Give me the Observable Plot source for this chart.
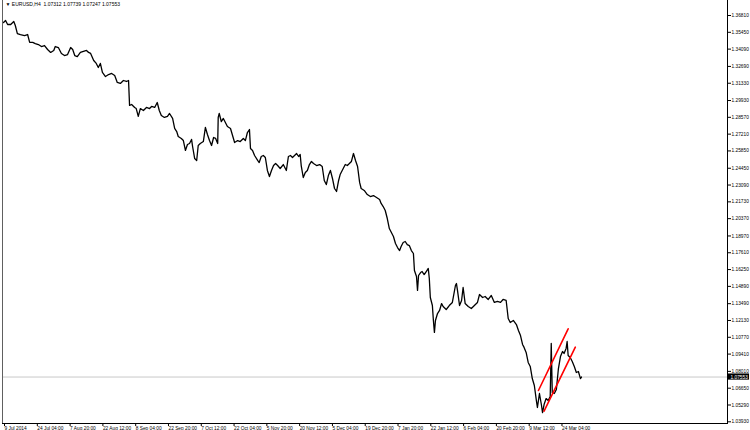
<!DOCTYPE html>
<html>
<head>
<meta charset="utf-8">
<script src="https://cdn.jsdelivr.net/npm/d3@7"></script>
<script src="https://cdn.jsdelivr.net/npm/@observablehq/plot@0.6"></script>
<style>
  html, body { margin: 0; padding: 0; background: #ffffff; }
  #chart { width: 750px; height: 430px; }
</style>
</head>
<body>
<div id="chart"></div>
<script>
// ---- Data ----
const symbolName = "EURUSD,H4";
const lastBarOHLC = [1.07312, 1.07739, 1.07247, 1.07553];
const lastClose = 1.07553;

// bar index (H4 bars since 9 Jul 2014) and close price, sampled along the path
const bars = [0,4,8,14,20,23,27,33,41,47,51,57,62,68,74,80,86,92,98,101,107,113,119,125,131,135,139,144,150,156,162,166,170,176,181,185,189,193,199,205,211,217,222,228,234,240,244,246,250,256,259,263,267,273,279,285,289,295,300,304,308,314,320,324,330,334,338,341,347,351,355,359,363,367,369,373,377,380,384,390,394,398,402,406,410,414,418,419,421,425,429,433,437,443,447,451,457,462,468,472,476,480,482,486,490,496,499,503,507,511,515,519,523,527,531,535,540,546,552,556,560,564,568,572,576,579,581,585,589,593,597,601,605,611,617,622,626,630,634,638,642,646,650,654,657,663,667,671,675,679,683,687,691,695,698,704,710,716,722,728,734,737,741,745,749,753,757,761,765,769,773,776,780,784,788,792,796,800,802,806,808,810,814,817,821,825,829,831,833,837,839,841,843,847,851,855,858,864,870,876,882,884,886,890,894,897,901,907,913,919,925,929,935,940,946,952,958,964,970,975,981,985,989,995,1001,1005,1009,1013,1016,1020,1024,1028,1032,1036,1040,1042,1046,1050,1052,1055,1059,1063,1067,1069,1071,1075,1079,1083,1087,1091,1094,1098,1100,1102,1106,1110,1114,1118,1122,1126,1128];
const closes = [1.3624,1.3641,1.3608,1.3608,1.3633,1.3600,1.3535,1.3527,1.3519,1.3527,1.3463,1.3463,1.3454,1.3446,1.3430,1.3438,1.3406,1.3382,1.3398,1.3430,1.3422,1.3374,1.3357,1.3365,1.3422,1.3406,1.3357,1.3349,1.3382,1.3390,1.3398,1.3382,1.3374,1.3317,1.3293,1.3260,1.3293,1.3220,1.3187,1.3203,1.3212,1.3195,1.3139,1.3131,1.3155,1.3147,1.3155,1.2953,1.2961,1.2937,1.2928,1.2864,1.2928,1.2912,1.2937,1.2928,1.2945,1.2937,1.2977,1.2912,1.2872,1.2856,1.2864,1.2888,1.2848,1.2767,1.2742,1.2702,1.2686,1.2669,1.2589,1.2637,1.2645,1.2678,1.2621,1.2524,1.2508,1.2629,1.2645,1.2661,1.2775,1.2718,1.2669,1.2629,1.2694,1.2686,1.2645,1.2856,1.2888,1.2823,1.2848,1.2815,1.2783,1.2767,1.2710,1.2653,1.2669,1.2661,1.2686,1.2669,1.2734,1.2758,1.2605,1.2589,1.2548,1.2508,1.2491,1.2540,1.2548,1.2532,1.2427,1.2378,1.2427,1.2467,1.2483,1.2467,1.2443,1.2475,1.2427,1.2540,1.2548,1.2532,1.2548,1.2564,1.2540,1.2556,1.2467,1.2370,1.2410,1.2427,1.2475,1.2500,1.2483,1.2467,1.2475,1.2459,1.2346,1.2313,1.2386,1.2427,1.2362,1.2281,1.2257,1.2346,1.2394,1.2443,1.2475,1.2467,1.2483,1.2500,1.2564,1.2508,1.2459,1.2330,1.2281,1.2265,1.2232,1.2216,1.2224,1.2208,1.2192,1.2160,1.2135,1.2103,1.2038,1.1957,1.1925,1.1893,1.1836,1.1803,1.1779,1.1811,1.1844,1.1852,1.1827,1.1819,1.1779,1.1755,1.1617,1.1569,1.1456,1.1577,1.1601,1.1609,1.1585,1.1609,1.1634,1.1553,1.1399,1.1334,1.1213,1.1116,1.1213,1.1269,1.1294,1.1350,1.1326,1.1302,1.1334,1.1359,1.1496,1.1512,1.1456,1.1334,1.1375,1.1480,1.1350,1.1326,1.1310,1.1334,1.1359,1.1423,1.1399,1.1407,1.1383,1.1415,1.1359,1.1367,1.1359,1.1383,1.1375,1.1229,1.1197,1.1213,1.1180,1.1132,1.1091,1.1019,1.0995,1.0954,1.0873,1.0841,1.0743,1.0687,1.0565,1.0509,1.0622,1.0525,1.0468,1.0533,1.0581,1.0565,1.0598,1.1027,1.0629,1.0622,1.0654,1.0824,1.0921,1.0962,1.0946,1.0987,1.1043,1.0930,1.0913,1.0881,1.0841,1.0792,1.0800,1.0743,1.07553];

// red trend channel (two parallel lines): [bar, price] endpoints
const channelUpperBars = [1044, 1102];
const channelUpperPrices = [1.06463, 1.11456];
const channelLowerBars = [1055, 1116];
const channelLowerPrices = [1.04788, 1.09967];

// axis ticks
const xTickBars = [0,64,128,192,256,320,384,448,512,576,640,704,768,832,896,960,1024,1088];
const xTickLabels = ["9 Jul 2014","24 Jul 04:00","7 Aug 20:00","22 Aug 12:00","8 Sep 04:00","22 Sep 20:00","7 Oct 12:00","22 Oct 04:00","5 Nov 20:00","20 Nov 12:00","5 Dec 04:00","19 Dec 20:00","7 Jan 20:00","22 Jan 12:00","6 Feb 04:00","20 Feb 20:00","9 Mar 12:00","24 Mar 04:00"];
const yTickValues = [1.36810,1.35450,1.34090,1.32690,1.31330,1.29930,1.28570,1.27210,1.25850,1.24450,1.23090,1.21730,1.20370,1.18970,1.17610,1.16250,1.14890,1.13490,1.12130,1.10770,1.09410,1.08010,1.06650,1.05290,1.03930];

// ---- Build tables ----
const series = bars.map((b, i) => ({bar: b, close: closes[i]}));
const channel = [
  ...channelUpperBars.map((b, i) => ({line: "upper", bar: b, price: channelUpperPrices[i]})),
  ...channelLowerBars.map((b, i) => ({line: "lower", bar: b, price: channelLowerPrices[i]}))
];
const xLabelMap = new Map(xTickBars.map((b, i) => [b, xTickLabels[i]]));

const xDomain = [-2, 1413];
const yDomain = [1.03793, 1.38024];
const boxHalf = 0.0025;
const title = "\u25BC " + symbolName + "  " + lastBarOHLC.map(v => v.toFixed(5)).join(" ");

const chart = Plot.plot({
  width: 750,
  height: 430,
  marginLeft: 2,
  marginRight: 23,
  marginTop: 0,
  marginBottom: 7,
  style: {fontFamily: "'Liberation Sans', Arial, sans-serif", fontSize: "4.8px", background: "#ffffff", color: "#000000", overflow: "visible"},
  x: {domain: xDomain, axis: null, label: null},
  y: {domain: yDomain, axis: null, label: null},
  marks: [
    Plot.ruleY([lastClose], {stroke: "#c8c8c8", strokeWidth: 1}),
    Plot.line(series, {x: "bar", y: "close", stroke: "#000000", strokeWidth: 1.3, curve: "linear"}),
    Plot.line(channel, {x: "bar", y: "price", z: "line", stroke: "#ff0000", strokeWidth: 1.6}),
    Plot.axisY(yTickValues, {anchor: "right", label: null, tickSize: 3, tickPadding: 1, stroke: "#000000", fill: "#000000", tickFormat: d => d.toFixed(5)}),
    Plot.axisX(xTickBars, {anchor: "bottom", label: null, tickSize: 3, tickPadding: 0, textAnchor: "start", dx: 1, stroke: "#000000", fill: "#000000", tickFormat: d => xLabelMap.get(d)}),
    Plot.frame({anchor: "left", stroke: "#606060"}),
    Plot.frame({anchor: "bottom", stroke: "#000000"}),
    Plot.frame({anchor: "right", stroke: "#000000"}),
    Plot.rect([lastClose], {x1: xDomain[1], x2: xDomain[1] + 43, y1: d => d - boxHalf, y2: d => d + boxHalf, fill: "#000000"}),
    Plot.text([lastClose], {x: xDomain[1], y: d => d, text: d => d.toFixed(5), fill: "#ffffff", textAnchor: "start", dx: 3}),
    Plot.text([title], {frameAnchor: "top-left", dx: 3, dy: 1.5, lineAnchor: "top", textAnchor: "start", fill: "#000000", fontSize: 5, text: d => d})
  ]
});
document.getElementById("chart").appendChild(chart);
</script>
</body>
</html>
